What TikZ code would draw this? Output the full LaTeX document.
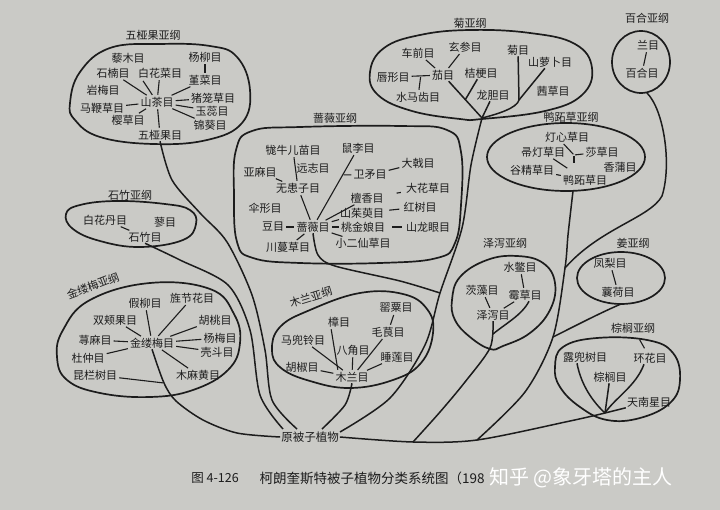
\documentclass[tikz,border=0pt]{standalone}
\usepackage{fontspec}
\newfontfamily\cjk{Noto Sans CJK SC}
\usetikzlibrary{calc}
\definecolor{paper}{RGB}{202,202,198}
\definecolor{ink}{RGB}{28,28,28}
\begin{document}
\begin{tikzpicture}[x=1pt,y=-1pt,
  ord/.style={font=\cjk\fontsize{11}{12}\selectfont,text=ink,inner sep=1pt},
  lab/.style={ord},
  tk/.style={draw=ink,line width=1.1pt,shorten >=1pt,shorten <=1pt},
  blob/.style={draw=ink,line width=1.7pt},
  trunk/.style={draw=ink,line width=1.5pt}]
\useasboundingbox (0,0) rectangle (720,510);
\fill[paper] (0,0) rectangle (720,510);

% ---------- outlines ----------
\draw[blob] plot[smooth cycle,tension=0.7] coordinates {(70,103) (80,72) (110,48) (160,44) (210,46) (237,57) (250,90) (242,123) (207,140) (153,144) (100,137) (75,120)};
\draw[blob] plot[smooth cycle,tension=0.7] coordinates {(236,150) (252,131) (300,127) (400,126) (447,130) (461,152) (461,205) (455,243) (437,258) (380,263) (300,263) (253,258) (237,242) (234,195)};
\draw[blob] plot[smooth cycle,tension=0.7] coordinates {(370,72) (384,48) (420,35) (470,30) (530,33) (575,44) (592,68) (582,95) (545,111) (482,119) (460,119) (412,111) (378,95)};
\draw[blob] (641,62) ellipse [x radius=29, y radius=31];
\draw[blob] (566,157) ellipse [x radius=79, y radius=34];
\draw[blob] plot[smooth cycle,tension=0.7] coordinates {(66,214) (80,205) (117,201) (165,204) (190,210) (196,224) (183,240) (140,247) (100,241) (73,229)};
\draw[blob] plot[smooth cycle,tension=0.7] coordinates {(57,357) (63,330) (90,300) (150,283) (210,289) (234,314) (240,343) (228,370) (193,390) (150,397) (100,393) (67,380)};
\draw[blob] plot[smooth cycle,tension=0.7] coordinates {(272,350) (280,327) (310,310) (360,293) (403,294) (427,309) (433,333) (421,363) (393,380) (350,388) (310,381) (281,368)};
\draw[blob] plot[smooth cycle,tension=0.7] coordinates {(452,300) (460,277) (487,260) (517,256) (543,263) (555,283) (550,310) (530,333) (503,346) (490,349) (470,337) (455,320)};
\draw[blob] (621,278) ellipse [x radius=44, y radius=26];
\draw[blob] plot[smooth cycle,tension=0.7] coordinates {(555,367) (563,347) (597,338) (647,340) (673,353) (680,380) (670,403) (640,418) (607,420) (580,407) (560,387)};

% ---------- subclass labels ----------
\node[lab] (dLab) at (153,35) {五桠果亚纲};
\node[lab] (aLab) at (470,23) {菊亚纲};
\node[lab] (lLab) at (647,18) {百合亚纲};
\node[lab] (rLab) at (335,118) {蔷薇亚纲};
\node[lab] (cLab) at (571,117) {鸭跖草亚纲};
\node[lab] (cyLab) at (130,195) {石竹亚纲};
\node[lab,rotate=21] (hLab) at (93,286) {金缕梅亚纲};
\node[lab,rotate=17] (mLab) at (311,297) {木兰亚纲};
\node[lab] (alLab) at (505,243) {泽泻亚纲};
\node[lab] (zLab) at (633,243) {姜亚纲};
\node[lab] (arLab) at (633,328) {棕榈亚纲};

% ---------- Dilleniidae ----------
\node[ord] (d1) at (128,58) {藜木目};
\node[ord] (d2) at (205,57) {杨柳目};
\node[ord] (d3) at (113,73) {石楠目};
\node[ord] (d4) at (160,73) {白花菜目};
\node[ord] (d5) at (205,80) {堇菜目};
\node[ord] (d6) at (103,90) {岩梅目};
\node[ord] (d7) at (213,98) {猪笼草目};
\node[ord] (d8) at (157,102) {山茶目};
\node[ord] (d9) at (102,108) {马鞭草目};
\node[ord] (d10) at (212,111) {玉蕊目};
\node[ord] (d11) at (128,120) {樱草目};
\node[ord] (d12) at (210,125) {锦葵目};
\node[ord] (d13) at (160,135) {五桠果目};
\draw[tk] (d2) -- (d5);
\draw[tk] (d5) -- (d8);
\draw[tk] (d7) -- (d8);
\draw[tk] (d4) -- (d8);
\draw[tk,shorten <=20pt] (d1) -- (d8);
\draw[tk] (d3) -- (d8);
\draw[tk] (d9) -- (d8);
\draw[tk] (d11) -- (d8);
\draw[tk] (d13) -- (d8);
\draw[tk] (d12) -- (d8);
\draw[tk] (d10) -- (d8);

% ---------- Rosidae ----------
\node[ord] (r1) at (293,150) {牻牛儿苗目};
\node[ord] (r2) at (358,148) {鼠李目};
\node[ord] (r3) at (313,168) {远志目};
\node[ord] (r4) at (260,172) {亚麻目};
\node[ord] (r5) at (370,175) {卫矛目};
\node[ord] (r6) at (418,163) {大戟目};
\node[ord] (r7) at (298,188) {无患子目};
\node[ord] (r8) at (428,188) {大花草目};
\node[ord] (r9) at (367,198) {檀香目};
\node[ord] (r10) at (265,208) {伞形目};
\node[ord] (r11) at (420,207) {红树目};
\node[ord] (r12) at (362,213) {山茱萸目};
\node[ord] (r13) at (273,227) {豆目};
\node[ord] (r14) at (313,227) {蔷薇目};
\node[ord] (r15) at (363,227) {桃金娘目};
\node[ord] (r16) at (428,227) {山龙眼目};
\node[ord] (r17) at (288,247) {川蔓草目};
\node[ord] (r18) at (363,243) {小二仙草目};
\draw[tk] (r1) -- (r7);
\draw[tk] (r4) -- (r7);
\draw[tk] (r7) -- (r14);
\draw[tk] (r2) -- (r14);
\path (r2) -- (r14) coordinate[pos=0.31] (r2m);
\draw[tk] (r5) -- (r2m);
\draw[tk] (r6) -- (r5);
\draw[tk,shorten >=12pt,shorten <=4pt] (r8) -- (r9);
\draw[tk] (r9) -- (r14);
\draw[tk,shorten >=4pt,shorten <=3pt] (r11) -- (r12);
\draw[tk] (r12) -- (r14);
\draw[tk] (r15) -- (r14);
\draw[tk,shorten >=6pt,shorten <=3pt] (r16) -- (r15);
\draw[tk] (r13) -- (r14);
\draw[tk] (r17) -- (r14);
\draw[tk] (r18) -- (r14);

% ---------- Asteridae ----------
\node[ord] (a1) at (418,53) {车前目};
\node[ord] (a2) at (465,47) {玄参目};
\node[ord] (a3) at (518,50) {菊目};
\node[ord] (a4) at (550,62) {山萝卜目};
\node[ord] (a5) at (393,77) {唇形目};
\node[ord] (a6) at (443,75) {茄目};
\node[ord] (a7) at (481,73) {桔梗目};
\node[ord] (a8) at (418,97) {水马齿目};
\node[ord] (a9) at (493,95) {龙胆目};
\node[ord] (a10) at (553,91) {茜草目};
\coordinate (asJ) at (482,118);
\coordinate (a3m) at (519,100);
\draw[tk] (a1) -- (a6);
\draw[tk] (a2) -- (a6);
\draw[tk] (a5) -- (a6);
\path (a5) -- (a6) coordinate[pos=0.5] (a56);
\draw[tk] (a8) -- (a56);
\draw[trunk] (a6) -- (asJ);
\path (a6) -- (asJ) coordinate[pos=0.5] (a6m);
\draw[trunk] (a7) -- (a6m);
\draw[trunk] (a9) -- (asJ);
\draw[trunk] (a3) -- (a3m) .. controls (517,108) and (498,114) .. (asJ);
\draw[trunk] (a4) -- (a3m);

% ---------- Liliidae ----------
\node[ord] (l1) at (648,45) {兰目};
\node[ord] (l2) at (642,73) {百合目};
\draw[tk] (l1) -- (l2);
\coordinate (lB) at (647,93);

% ---------- Commelinidae ----------
\node[ord] (c1) at (567,137) {灯心草目};
\node[ord] (c2) at (543,152) {帚灯草目};
\node[ord] (c3) at (602,152) {莎草目};
\node[ord] (c4) at (532,170) {谷精草目};
\node[ord] (c5) at (620,167) {香蒲目};
\node[ord] (c6) at (585,180) {鸭跖草目};
\coordinate (cY) at (574,155);
\coordinate (cS) at (574,164);
\draw[tk] ([xshift=-4pt]c1.south) -- (cY);
\draw[tk] (c3) -- (cY);
\draw[tk] (cY) -- (cS);
\draw[tk,shorten >=10pt] (c2) -- (c6);
\draw[tk] (c4) -- (c6);
\coordinate (cB) at (573,191);

% ---------- Caryophyllidae ----------
\node[ord] (cy1) at (105,220) {白花丹目};
\node[ord] (cy2) at (165,222) {蓼目};
\node[ord] (cy3) at (145,237) {石竹目};
\draw[tk] (cy1) -- (cy3);

% ---------- Hamamelidae ----------
\node[ord] (h1) at (145,303) {假柳目};
\node[ord] (h2) at (192,298) {旌节花目};
\node[ord] (h3) at (115,320) {双颊果目};
\node[ord] (h4) at (215,320) {胡桃目};
\node[ord] (h5) at (95,340) {荨麻目};
\node[ord] (h6) at (152,343) {金缕梅目};
\node[ord] (h7) at (220,338) {杨梅目};
\node[ord] (h8) at (217,352) {壳斗目};
\node[ord] (h9) at (88,358) {杜仲目};
\node[ord] (h10) at (95,375) {昆栏树目};
\node[ord] (h11) at (198,375) {木麻黄目};
\foreach \n in {h1,h2,h3,h5,h9,h4,h7,h8,h11} {\draw[tk] (\n) -- (h6);}
\coordinate (hJ) at (164,383);
\draw[tk] (h10) -- (hJ);

% ---------- Magnoliidae ----------
\node[ord] (m1) at (396,308) {罂粟目};
\node[ord] (m2) at (339,322) {樟目};
\node[ord] (m3) at (388,332) {毛茛目};
\node[ord] (m4) at (303,340) {马兜铃目};
\node[ord] (m5) at (353,350) {八角目};
\node[ord] (m6) at (397,357) {睡莲目};
\node[ord] (m7) at (302,367) {胡椒目};
\node[ord] (m8) at (352,377) {木兰目};
\draw[tk] (m1) -- (m3);
\draw[tk] (m3) -- (m8);
\draw[tk] ([xshift=-8pt]m2.south) -- ([xshift=-14pt]m8.north);
\draw[tk] (m4) -- (m8);
\draw[tk] (m5) -- (m8);
\draw[tk] (m6) -- (m8);
\draw[tk] (m7) -- (m8);

% ---------- Alismatidae ----------
\node[ord] (al1) at (520,267) {水鳖目};
\node[ord] (al2) at (482,290) {茨藻目};
\node[ord] (al3) at (525,295) {霉草目};
\node[ord] (al4) at (493,315) {泽泻目};
\draw[tk] (al1) -- (al3);
\draw[tk] (al2) -- (al4);
\draw[tk] (al3) -- (al4);
\coordinate (alM) at (493,334);
\draw[trunk] ([xshift=4pt]al3.south) .. controls (522,315) and (505,324) .. (alM);

% ---------- Zingiberidae ----------
\node[ord] (z1) at (610,263) {凤梨目};
\node[ord] (z2) at (618,292) {蘘荷目};
\draw[tk] (z1) -- (z2);
\coordinate (zB) at (621,304);

% ---------- Arecidae ----------
\node[ord] (ar1) at (585,357) {露兜树目};
\node[ord] (ar2) at (650,358) {环花目};
\node[ord] (ar3) at (610,377) {棕榈目};
\node[ord] (ar4) at (649,402) {天南星目};
\coordinate (arJ) at (605,413);
\draw[tk,shorten <=6pt,shorten >=4pt] (arLab) -- (ar2);
\draw[trunk] ([xshift=-8pt]ar1.south) .. controls (581,385) and (593,402) .. (arJ);
\draw[trunk] (ar3) -- (arJ);
\draw[trunk] ([xshift=-6pt]ar2.south) .. controls (636,386) and (615,398) .. (arJ);
\draw[trunk] (ar4) -- (arJ);

% ---------- root ----------
\node[ord,font=\cjk\fontsize{11.5}{12}\selectfont] (root) at (310,437) {原被子植物};
\coordinate (rootA) at (283,429);
\coordinate (rootB) at (297,429);
\coordinate (rootC) at (322,429);
\coordinate (rootD) at (340,432);
\coordinate (rJ) at (440,293);
\coordinate (mJ1) at (413,442);
\coordinate (mJ2) at (477,440);
\coordinate (cJ2) at (565,268);
\coordinate (zJ) at (553,337);

% ---------- trunks ----------
\draw[trunk] plot[smooth] coordinates {(d13.south) (172,180) (200,213) (227,242) (252,295) (265,350) (272,400) (rootB)};
\draw[trunk] plot[smooth] coordinates {(cy3.south) (180,260) (228,285) (250,330) (260,395) (rootA)};
\draw[trunk] plot[smooth] coordinates {(h6.south) (hJ) (176,401) (203,420) (237,433) (root.west)};
\draw[trunk] plot[smooth] coordinates {(m8.south) (345,405) (rootC)};
\draw[trunk] plot[smooth] coordinates {(asJ) (471,165) (462,228) (rJ) (425,345) (390,398) (rootD)};
\draw[trunk] plot[smooth] coordinates {(r14.south) (318,255) (335,266) (400,281) (rJ)};
\draw[trunk] plot[smooth] coordinates {(root.east) (mJ1) (mJ2) (570,421) (arJ)};
\draw[trunk] plot[smooth] coordinates {(al4.south) (490,348) (465,382) (440,412) (mJ1)};
\draw[trunk] plot[smooth] coordinates {(cB) (568,235) (cJ2) (zJ) (525,392) (mJ2)};
\draw[trunk] (zB) .. controls (600,313) and (575,326) .. (zJ);
\draw[trunk] (lB) .. controls (664,110) and (672,165) .. (662,196) .. controls (650,218) and (600,228) .. (cJ2);

% ---------- caption ----------
\node[font=\cjk\fontsize{12.5}{14}\selectfont,text=ink] (figno) at (215,478) {图 4-126};
\node[anchor=west,font=\cjk\fontsize{13.5}{15}\selectfont,text=ink] (cap) at (256,478) {柯朗奎斯特被子植物分类系统图（198};
\node[anchor=west,font=\cjk\fontsize{20}{22}\selectfont,text=white] (wm) at (486,478) {知乎 @象牙塔的主人};
\end{tikzpicture}
\end{document}
